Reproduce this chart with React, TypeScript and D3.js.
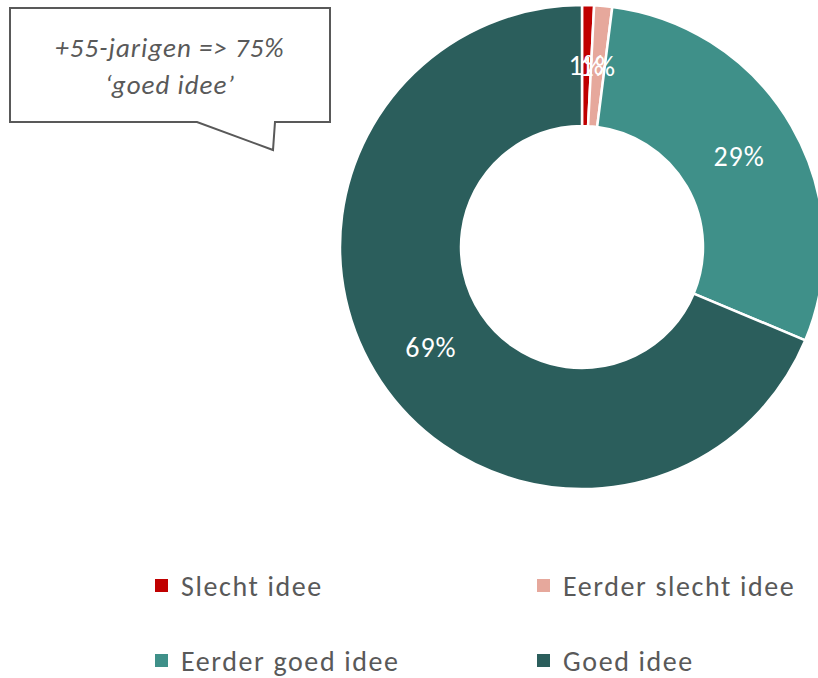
import React from "react";
import * as d3 from "d3";

const categories = ["Slecht idee", "Eerder slecht idee", "Eerder goed idee", "Goed idee"];
const values = [0.8, 1.2, 29.3, 68.7];
const labels = ["1%", "1%", "29%", "69%"];
const colors = ["#C00000", "#E6A89C", "#3F9089", "#2B5E5C"];
const calloutLines = ["+55-jarigen => 75%", "\u2018goed idee\u2019"];

const W = 818;
const H = 678;
const FONT = "Carlito, Calibri, Lato, 'Open Sans', 'Liberation Sans', sans-serif";

export default function App() {
  const cx = 582;
  const cy = 247;
  const outerR = 242;
  const innerR = 121;

  const pie = d3.pie<number>().sort(null).value((d) => d)(values);
  const arc = d3.arc<d3.PieArcDatum<number>>().innerRadius(innerR).outerRadius(outerR);

  const legendPos = [
    { x: 155, y: 585 },
    { x: 537, y: 585 },
    { x: 155, y: 660 },
    { x: 537, y: 660 },
  ];

  const calloutPath = "M10,8 L330,8 L330,122 L275,122 L273,150 L197,122 L10,122 Z";

  return (
    <svg
      width={W}
      height={H}
      style={{ position: "absolute", left: 0, top: 0, display: "block", background: "#fff" }}
      fontFamily={FONT}
    >
      <g transform={`translate(${cx},${cy})`}>
        {pie.map((p, i) => (
          <path key={i} d={arc(p) || ""} fill={colors[i]} stroke="#fff" strokeWidth={2.5} />
        ))}
        {pie.map((p, i) => {
          const [x, y] = arc.centroid(p);
          return (
            <text
              key={"l" + i}
              x={x}
              y={y}
              textAnchor="middle"
              dominantBaseline="central"
              fill="#fff"
              fontSize={28}
              letterSpacing={1}
            >
              {labels[i]}
            </text>
          );
        })}
      </g>

      <path d={calloutPath} fill="#fff" stroke="#595959" strokeWidth={2} strokeLinejoin="miter" />
      {calloutLines.map((t, i) => (
        <text
          key={"c" + i}
          x={170}
          y={57 + i * 37}
          textAnchor="middle"
          fill="#595959"
          fontSize={27}
          letterSpacing={1}
          fontStyle="italic"
        >
          {t}
        </text>
      ))}

      {categories.map((c, i) => (
        <g key={"lg" + i} transform={`translate(${legendPos[i].x},${legendPos[i].y})`}>
          <rect x={0} y={-6} width={13} height={13} fill={colors[i]} />
          <text x={26} y={1} dominantBaseline="central" fill="#595959" fontSize={28} letterSpacing={1.6}>
            {c}
          </text>
        </g>
      ))}
    </svg>
  );
}
